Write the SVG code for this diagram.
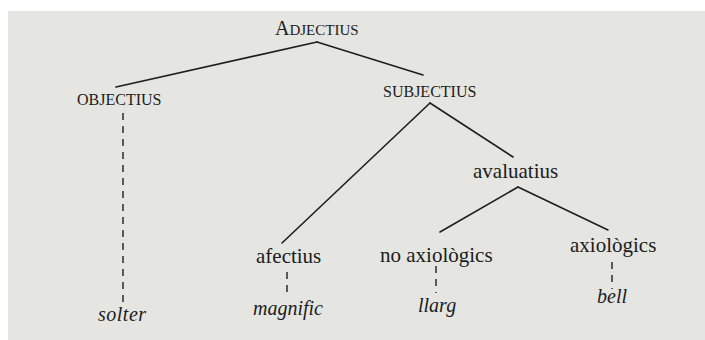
<svg xmlns="http://www.w3.org/2000/svg" width="705" height="340" viewBox="0 0 705 340">
<style>
.t{font-family:"Liberation Serif","Times New Roman","DejaVu Serif",serif;fill:#1c1c1c}
.sc{font-size:16px}
.lab{font-size:21px}
.it{font-size:20px;font-style:italic}
.e{stroke:#1e1e1e;stroke-width:1.6;fill:none;stroke-linecap:round}
.d{stroke:#1e1e1e;stroke-width:1.4;fill:none;stroke-dasharray:7 6}
</style>
<rect x="0" y="0" width="705" height="340" fill="#ffffff"/>
<rect x="8" y="11" width="697" height="329" fill="#e5e5e1"/>
<g id="connectors">
<line class="e" x1="317" y1="42" x2="116" y2="87"/>
<line class="e" x1="317" y1="42" x2="423" y2="75"/>
<line class="e" x1="430" y1="103" x2="282" y2="243"/>
<line class="e" x1="430" y1="103" x2="513" y2="157"/>
<line class="e" x1="518" y1="187" x2="440" y2="232"/>
<line class="e" x1="518" y1="187" x2="608" y2="230"/>
<line class="d" x1="123" y1="113" x2="123" y2="305"/>
<line class="d" x1="287" y1="272" x2="287" y2="298"/>
<line class="d" x1="436" y1="266" x2="436" y2="293"/>
<line class="d" x1="612" y1="262" x2="612" y2="289"/>
</g>
<g id="adjectius"><text class="t" x="275" y="35"><tspan font-size="20">A</tspan><tspan font-size="15">DJECTIUS</tspan></text></g>
<g id="objectius"><text class="t sc" x="77" y="105">OBJECTIUS</text></g>
<g id="subjectius"><text class="t sc" x="383" y="97">SUBJECTIUS</text></g>
<g id="avaluatius"><text class="t lab" x="473" y="178">avaluatius</text></g>
<g id="afectius"><text class="t lab" x="256" y="263">afectius</text></g>
<g id="no-axiologics"><text class="t lab" x="380" y="262">no axiològics</text></g>
<g id="axiologics"><text class="t lab" x="570" y="252">axiològics</text></g>
<g id="solter"><text class="t it" x="98" y="321" letter-spacing="0.5">solter</text></g>
<g id="magnific"><text class="t it" x="253" y="315">magnific</text></g>
<g id="llarg"><text class="t it" x="418" y="312">llarg</text></g>
<g id="bell"><text class="t it" x="597" y="303">bell</text></g>
</svg>
